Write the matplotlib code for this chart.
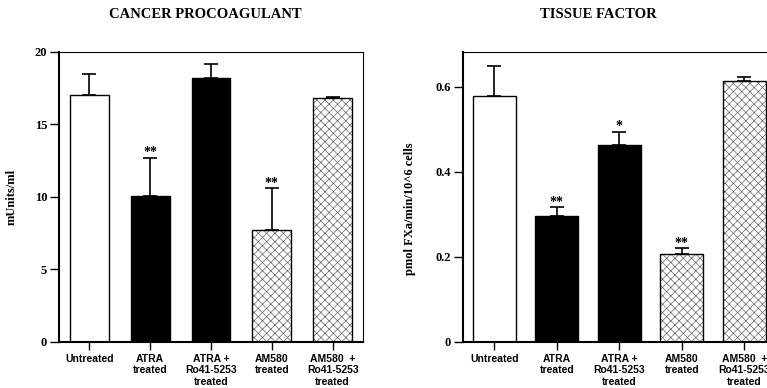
import matplotlib
matplotlib.use("Agg")
import matplotlib.pyplot as plt

plt.rcParams['hatch.linewidth'] = 0.5

labels = ['Untreated', 'ATRA\ntreated', 'ATRA +\nRo41-5253\ntreated',
          'AM580\ntreated', 'AM580  +\nRo41-5253\ntreated']
colors = ['white', 'black', 'black', 'white', 'white']
hatches = ['', '', '', 'xxxx', 'xxxx']

# cancer procoagulant (mUnits/ml)
cp_vals = [17.0, 10.1, 18.2, 7.7, 16.8]
cp_err = [1.5, 2.6, 1.0, 2.9, 0.1]
cp_marks = ['', '**', '', '**', '']

# tissue factor (pmol FXa/min/10^6 cells)
tf_vals = [0.579, 0.296, 0.464, 0.207, 0.614]
tf_err = [0.071, 0.021, 0.031, 0.014, 0.010]
tf_marks = ['', '**', '*', '**', '']

serif = 'Liberation Serif'
sans = 'Liberation Sans'

fig = plt.figure(figsize=(7.67, 3.88), dpi=100)
ax1 = fig.add_axes([0.0769, 0.1186, 0.3964, 0.7474])
ax2 = fig.add_axes([0.6037, 0.1186, 0.4074, 0.7474])


def draw(ax, vals, err, marks, ylim, yticks, yticklabels, ylabel, width):
    x = list(range(len(vals)))
    # hatch drawn in grey, outline in black on top
    ax.bar(x, vals, width=width, color=colors, edgecolor='#666666',
           hatch=hatches, linewidth=0, zorder=2)
    ax.bar(x, vals, width=width, color='none', edgecolor='black',
           linewidth=1.0, zorder=2)
    ax.errorbar(x, vals, yerr=[[0] * len(vals), err], fmt='none',
                ecolor='black', elinewidth=1.2, capsize=5, capthick=1.2, zorder=3)
    for i, m in enumerate(marks):
        if m:
            ax.annotate(m, (i, vals[i] + err[i]), xytext=(0, 1),
                        textcoords='offset points', ha='center', va='baseline',
                        fontsize=10, fontweight='bold', family=serif)
    ax.set_xlim(-0.5, len(vals) - 0.5)
    ax.set_ylim(*ylim)
    ax.set_yticks(yticks)
    ax.set_yticklabels(yticklabels, fontsize=9, fontweight='bold', family=serif)
    ax.set_xticks(x)
    ax.set_xticklabels(labels, fontsize=7.5, fontweight='bold', family=sans,
                       linespacing=1.2)
    ax.tick_params(axis='y', direction='out', length=6.5, width=1.0, pad=2)
    ax.tick_params(axis='x', direction='out', length=5.5, width=1.0, pad=3)
    ax.set_ylabel(ylabel, fontsize=9, fontweight='bold', family=serif)
    for s in ['left', 'bottom']:
        ax.spines[s].set_linewidth(1.5)
    for s in ['top', 'right']:
        ax.spines[s].set_linewidth(0.8)


draw(ax1, cp_vals, cp_err, cp_marks, (0, 20), [0, 5, 10, 15, 20],
     ['0', '5', '10', '15', '20'], 'mUnits/ml', 0.64)
draw(ax2, tf_vals, tf_err, tf_marks, (0, 0.682), [0, 0.2, 0.4, 0.6],
     ['0', '0.2', '0.4', '0.6'], 'pmol FXa/min/10^6 cells', 0.69)

ax1.yaxis.set_label_coords(-0.135, 0.5)
ax2.yaxis.set_label_coords(-0.15, 0.46)

fig.text(205 / 767, 1 - 15 / 388, 'CANCER PROCOAGULANT', ha='center', va='center',
         fontsize=10.5, fontweight='bold', family=serif)
fig.text(598 / 767, 1 - 15 / 388, 'TISSUE FACTOR', ha='center', va='center',
         fontsize=10.5, fontweight='bold', family=serif)

fig.savefig('out.png', dpi=100)
